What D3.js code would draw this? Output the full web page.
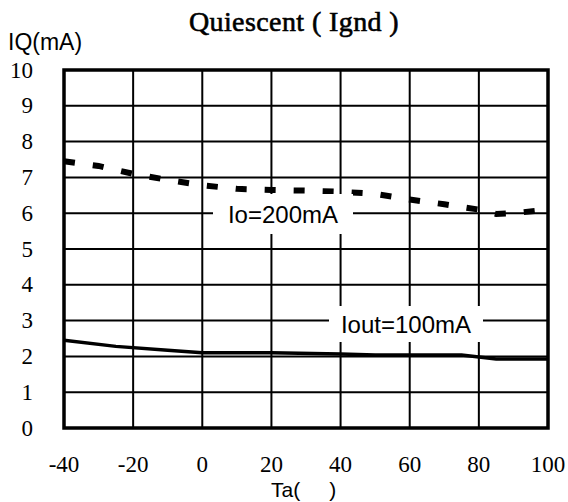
<!DOCTYPE html>
<html><head><meta charset="utf-8">
<script src="https://cdn.jsdelivr.net/npm/d3@7/dist/d3.min.js"></script>
<style>body{margin:0;background:#fff}svg{display:block}</style>
</head><body>
<svg id="c" width="568" height="502"></svg>
<script>
const xTicks = [-40, -20, 0, 20, 40, 60, 80, 100];
const yTicks = [0, 1, 2, 3, 4, 5, 6, 7, 8, 9, 10];
const io200Temp = [-40, -30, -20, -10, 0, 10, 20, 30, 40, 50, 60, 70, 80, 85, 90, 100];
const io200Val  = [7.45, 7.32, 7.1, 6.93, 6.78, 6.68, 6.65, 6.63, 6.6, 6.54, 6.38, 6.25, 6.1, 5.98, 6.0, 6.1];
const io100Temp = [-40, -25, -10, 0, 20, 40, 50, 75, 85, 100];
const io100Val  = [2.45, 2.28, 2.17, 2.1, 2.1, 2.07, 2.04, 2.04, 1.93, 1.93];
const titleText = "Quiescent ( Ignd )";
const yLabel = "IQ(mA)";
const xLabel = "Ta(     )";
const label200 = "Io=200mA";
const label100 = "Iout=100mA";

const svg = d3.select("#c");
const L = 64, R = 548, T = 70, B = 428;
const x = d3.scaleLinear().domain([-40, 100]).range([L, R]);
const y = d3.scaleLinear().domain([0, 10]).range([B, T]);
const serif = "'Liberation Serif', 'Times New Roman', serif";
const sans = "'Liberation Sans', Arial, sans-serif";

// grid
svg.append("g").selectAll("line").data(xTicks).join("line")
  .attr("x1", d => x(d)).attr("x2", d => x(d)).attr("y1", T).attr("y2", B)
  .attr("stroke", "#000").attr("stroke-width", 2);
svg.append("g").selectAll("line").data(yTicks).join("line")
  .attr("x1", L).attr("x2", R).attr("y1", d => y(d)).attr("y2", d => y(d))
  .attr("stroke", "#000").attr("stroke-width", 2);

// lines
const line = d3.line().x(d => x(d[0])).y(d => y(d[1]));
svg.append("path").datum(io200Temp.map((t, i) => [t, io200Val[i]]))
  .attr("d", line).attr("fill", "none").attr("stroke", "#000")
  .attr("stroke-width", 6).attr("stroke-dasharray", "11,18");
svg.append("path").datum(io100Temp.map((t, i) => [t, io100Val[i]]))
  .attr("d", line).attr("fill", "none").attr("stroke", "#000")
  .attr("stroke-width", 3.5);

// frame
svg.append("rect").attr("x", L).attr("y", T).attr("width", R - L).attr("height", B - T)
  .attr("fill", "none").attr("stroke", "#000").attr("stroke-width", 3.5);

// annotation labels
function boxLabel(txt, cx, cy, w, h) {
  svg.append("rect").attr("x", cx - w / 2).attr("y", cy - h / 2).attr("width", w).attr("height", h).attr("fill", "#fff");
  svg.append("text").attr("x", cx).attr("y", cy).attr("text-anchor", "middle").attr("dominant-baseline", "central")
    .attr("font-family", sans).attr("font-size", 24).text(txt);
}
boxLabel(label200, 283, 214, 140, 40);
boxLabel(label100, 406, 324, 154, 36);

// tick labels
svg.append("g").selectAll("text").data(yTicks).join("text")
  .attr("x", 33).attr("y", d => y(d)).attr("text-anchor", "end").attr("dominant-baseline", "central")
  .attr("font-family", serif).attr("font-size", 23).text(d => d);
svg.append("g").selectAll("text").data(xTicks).join("text")
  .attr("x", d => x(d)).attr("y", 464).attr("text-anchor", "middle").attr("dominant-baseline", "central")
  .attr("font-family", serif).attr("font-size", 23).text(d => d);

// titles
svg.append("text").attr("x", 294).attr("y", 31).attr("text-anchor", "middle")
  .attr("font-family", serif).attr("font-size", 28)
  .attr("stroke", "#000").attr("stroke-width", 0.6)
  .attr("letter-spacing", 0.4).text(titleText);
svg.append("text").attr("x", 8).attr("y", 50)
  .attr("font-family", sans).attr("font-size", 23).text(yLabel);
svg.append("text").attr("x", 271).attr("y", 497).attr("xml:space", "preserve").style("white-space", "pre")
  .attr("font-family", sans).attr("font-size", 21).text(xLabel);
</script>
</body></html>
